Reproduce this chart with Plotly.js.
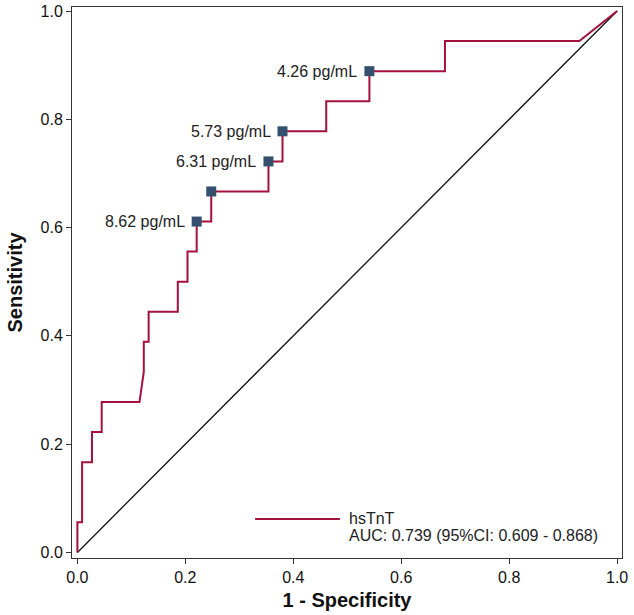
<!DOCTYPE html>
<html>
<head>
<meta charset="utf-8">
<script src="https://cdn.plot.ly/plotly-3.0.1.min.js"></script>
<style>
  html, body { margin: 0; padding: 0; background: #fff; }
  #plot { width: 634px; height: 615px; }
</style>
</head>
<body>
<div id="plot"></div>
<script>
// ROC curve for hsTnT (1 - specificity vs sensitivity)
var fpr  = [0, 0, 0.0087, 0.0087, 0.027, 0.027, 0.045, 0.045, 0.115, 0.123, 0.123, 0.132, 0.132,
            0.186, 0.186, 0.204, 0.204, 0.221, 0.221, 0.248, 0.248, 0.354, 0.354, 0.380, 0.380,
            0.461, 0.461, 0.541, 0.541, 0.681, 0.681, 0.930, 1];
var sens = [0, 0.0556, 0.0556, 0.1667, 0.1667, 0.2222, 0.2222, 0.2778, 0.2778, 0.3333, 0.3889, 0.3889, 0.4444,
            0.4444, 0.5, 0.5, 0.5556, 0.5556, 0.6111, 0.6111, 0.6667, 0.6667, 0.7222, 0.7222, 0.7778,
            0.7778, 0.8333, 0.8333, 0.8889, 0.8889, 0.9444, 0.9444, 1];

// cut-off points marked on the curve
var cutFpr    = [0.221, 0.248, 0.354, 0.380, 0.541];
var cutSens   = [0.6111, 0.6667, 0.7222, 0.7778, 0.8889];
var cutLabels = ['8.62 pg/mL', '', '6.31 pg/mL', '5.73 pg/mL', '4.26 pg/mL'];

var refX = [0, 1];
var refY = [0, 1];

var tickVals   = [0, 0.2, 0.4, 0.6, 0.8, 1];
var tickLabels = ['0.0', '0.2', '0.4', '0.6', '0.8', '1.0'];

var legendName = 'hsTnT';
var legendAuc  = 'AUC: 0.739 (95%CI: 0.609 - 0.868)';

var curveColor = '#a5113d';
var font = 'Liberation Sans, Arial, Helvetica, sans-serif';

var traces = [
  {x: refX, y: refY, mode: 'lines', line: {color: '#111', width: 1.3}, hoverinfo: 'skip'},
  {x: fpr, y: sens, mode: 'lines', line: {color: curveColor, width: 2}, name: legendName},
  {x: cutFpr, y: cutSens, mode: 'markers',
   marker: {symbol: 'square', size: 10, color: '#34506e'}}
];

var annotations = [];
cutLabels.forEach(function (t, i) {
  if (!t) return;
  annotations.push({
    x: cutFpr[i], y: cutSens[i], xref: 'x', yref: 'y', text: t,
    showarrow: false, xanchor: 'right', yanchor: 'middle', xshift: -10,
    font: {family: font, size: 16, color: '#222'}
  });
});

// legend drawn by hand: long key line plus two text lines
annotations.push({
  xref: 'paper', yref: 'paper', x: 0.500, y: 0.0708, xanchor: 'left', yanchor: 'middle',
  text: legendName, showarrow: false, font: {family: font, size: 16, color: '#222'}
});
annotations.push({
  xref: 'paper', yref: 'paper', x: 0.500, y: 0.0417, xanchor: 'left', yanchor: 'middle',
  text: legendAuc, showarrow: false, font: {family: font, size: 16, color: '#222'}
});

var layout = {
  width: 634, height: 615,
  margin: {l: 72, r: 12, t: 7, b: 57},
  paper_bgcolor: '#fff', plot_bgcolor: '#fff',
  showlegend: false,
  font: {family: font, size: 16, color: '#111'},
  xaxis: {
    range: [-0.01, 1.009], tickvals: tickVals, ticktext: tickLabels,
    ticks: 'outside', ticklen: 5, tickcolor: '#333',
    showline: true, linecolor: '#333', linewidth: 1, mirror: true,
    showgrid: false, zeroline: false,
    title: {text: '<b>1 - Specificity</b>', font: {family: font, size: 20, color: '#111'}, standoff: 7}
  },
  yaxis: {
    range: [-0.0103, 1.0074], tickvals: tickVals, ticktext: tickLabels,
    ticks: 'outside', ticklen: 5, tickcolor: '#333',
    showline: true, linecolor: '#333', linewidth: 1, mirror: true,
    showgrid: false, zeroline: false,
    title: {text: '<b>Sensitivity</b>', font: {family: font, size: 20, color: '#111'}, standoff: 12}
  },
  shapes: [
    {type: 'line', xref: 'paper', yref: 'paper', x0: 0.333, x1: 0.487, y0: 0.0708, y1: 0.0708,
     line: {color: curveColor, width: 2}}
  ],
  annotations: annotations
};

Plotly.newPlot('plot', traces, layout, {displayModeBar: false, staticPlot: true});
</script>
</body>
</html>
